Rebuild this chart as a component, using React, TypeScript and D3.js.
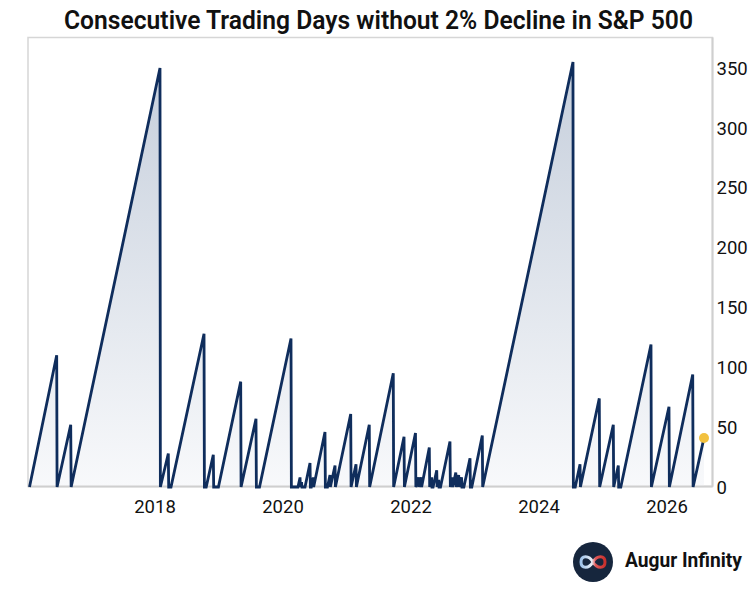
import React from "react";
import * as d3 from "d3";

// Decimal-year dates and streak values (vertices of the sawtooth line)
const dates: number[] = [
  2016.039, 2016.464, 2016.47, 2016.683, 2016.69, 2018.078, 2018.084, 2018.208, 2018.214, 2018.25,
  2018.766, 2018.772, 2018.8, 2018.911, 2018.917, 2018.991, 2019.339, 2019.345, 2019.578, 2019.584,
  2019.633, 2020.125, 2020.131, 2020.234, 2020.266, 2020.272, 2020.29, 2020.296, 2020.344, 2020.422,
  2020.428, 2020.442, 2020.473, 2020.479, 2020.656, 2020.662, 2020.695, 2020.734, 2020.74, 2020.813,
  2020.819, 2021.058, 2021.064, 2021.141, 2021.147, 2021.348, 2021.354, 2021.723, 2021.729, 2021.891,
  2021.897, 2022.07, 2022.076, 2022.12, 2022.126, 2022.16, 2022.166, 2022.286, 2022.292, 2022.322,
  2022.328, 2022.345, 2022.402, 2022.408, 2022.432, 2022.438, 2022.461, 2022.609, 2022.615, 2022.645,
  2022.651, 2022.7, 2022.706, 2022.745, 2022.751, 2022.79, 2022.796, 2022.826, 2022.922, 2022.928,
  2022.95, 2023.114, 2023.12, 2024.531, 2024.537, 2024.566, 2024.641, 2024.647, 2024.942, 2024.948,
  2025.161, 2025.167, 2025.239, 2025.245, 2025.278, 2025.75, 2025.756, 2026.031, 2026.037, 2026.402,
  2026.408, 2026.578,
];
const values: number[] = [
  0, 110, 0, 52, 0, 350, 0, 28, 0, 0,
  128, 0, 0, 27, 0, 0, 88, 0, 57, 0,
  0, 124, 0, 0, 8, 0, 4, 0, 0, 20,
  0, 0, 8, 0, 46, 0, 0, 10, 0, 18,
  0, 61, 0, 19, 0, 52, 0, 95, 0, 42,
  0, 45, 0, 8, 0, 8, 0, 33, 0, 8,
  0, 0, 14, 0, 6, 0, 0, 38, 0, 8,
  0, 12, 0, 10, 0, 8, 0, 0, 24, 0,
  0, 43, 0, 355, 0, 0, 19, 0, 74, 0,
  52, 0, 18, 0, 0, 119, 0, 67, 0, 94,
  0, 41,
];
const xTicks: number[] = [2018, 2020, 2022, 2024, 2026];
const yTicks: number[] = [0, 50, 100, 150, 200, 250, 300, 350];
const title = "Consecutive Trading Days without 2% Decline in S&P 500";
const brand = "Augur Infinity";

export default function App() {
  const W = 755, H = 590;
  const left = 28, right = 712.5, top = 37.5, bottom = 486.5;
  const x = d3.scaleLinear().domain([2016, 2026]).range([27, 667]);
  const y = d3.scaleLinear().domain([0, 350]).range([487, 68]);
  const pts: [number, number][] = dates.map((d, i) => [d, values[i]]);
  const line = d3.line<[number, number]>().x((d) => x(d[0])).y((d) => y(d[1]));
  const area = d3
    .area<[number, number]>()
    .x((d) => x(d[0]))
    .y0(y(0))
    .y1((d) => y(d[1]));
  const last = pts[pts.length - 1];
  const font = "Roboto, 'Open Sans', sans-serif";

  // infinity glyph centered at logo
  const cx = 593, cy = 562;
  const inf = `M ${cx} ${cy} C ${cx + 4} ${cy - 7}, ${cx + 12} ${cy - 7}, ${cx + 12} ${cy} C ${cx + 12} ${cy + 7}, ${cx + 4} ${cy + 7}, ${cx} ${cy} C ${cx - 4} ${cy - 7}, ${cx - 12} ${cy - 7}, ${cx - 12} ${cy} C ${cx - 12} ${cy + 7}, ${cx - 4} ${cy + 7}, ${cx} ${cy} Z`;

  return (
    <div style={{ position: "absolute", left: 0, top: 0 }}>
      <svg width={W} height={H} style={{ display: "block", background: "#fff" }}>
        <defs>
          <linearGradient id="fillGrad" gradientUnits="userSpaceOnUse" x1="0" y1={y(355)} x2="0" y2={y(0)}>
            <stop offset="0" stopColor="#c6cfdc" />
            <stop offset="1" stopColor="#f8f9fb" />
          </linearGradient>
          <linearGradient id="infGrad" x1="0" y1="0" x2="1" y2="0">
            <stop offset="0" stopColor="#9fc3ea" />
            <stop offset="0.45" stopColor="#e8eef6" />
            <stop offset="0.6" stopColor="#e05a5a" />
            <stop offset="1" stopColor="#c9302c" />
          </linearGradient>
        </defs>
        <text
          x={378.5}
          y={29}
          textAnchor="middle"
          fontFamily={font}
          fontWeight={600}
          fontSize={26}
          fill="#111"
          textLength={629}
          lengthAdjust="spacingAndGlyphs"
        >
          {title}
        </text>
        <rect x={left} y={top} width={right - left} height={bottom - top} fill="#fff" stroke="#d6d6d6" strokeWidth={1.5} />
        <path d={area(pts) || ""} fill="url(#fillGrad)" />
        <line x1={left} x2={right} y1={bottom} y2={bottom} stroke="#cfcfcf" strokeWidth={2} />
        <line x1={right} x2={right} y1={top} y2={bottom} stroke="#cfcfcf" strokeWidth={2} />
        <path d={line(pts) || ""} fill="none" stroke="#0f2d5c" strokeWidth={2.8} strokeLinejoin="miter" strokeMiterlimit={4} />
        <circle cx={x(last[0])} cy={y(last[1])} r={5} fill="#f2c13f" />
        {yTicks.map((t) => (
          <text key={t} x={716.5} y={y(t)} dy="0.36em" fontFamily={font} fontSize={18.5} fill="#111">
            {t}
          </text>
        ))}
        {xTicks.map((t) => (
          <text key={t} x={x(t)} y={513} textAnchor="middle" fontFamily={font} fontSize={18.5} fill="#111">
            {t}
          </text>
        ))}
        <circle cx={cx} cy={cy} r={20} fill="#16263d" />
        <path d={inf} fill="none" stroke="url(#infGrad)" strokeWidth={3} />
        <text x={625} y={567} fontFamily={font} fontWeight={700} fontSize={19.5} fill="#111" textLength={117} lengthAdjust="spacingAndGlyphs">
          {brand}
        </text>
      </svg>
    </div>
  );
}
